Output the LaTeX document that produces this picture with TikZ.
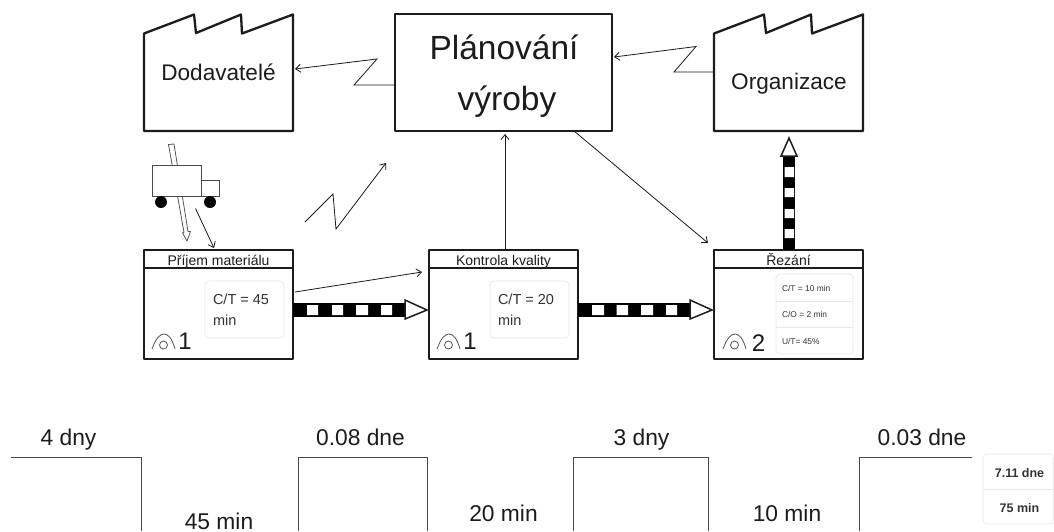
\documentclass[tikz,border=0pt]{standalone}
\usepackage{fontspec}
\setmainfont{Liberation Sans}
\usetikzlibrary{arrows.meta}
\definecolor{ink}{HTML}{1C1C1C}
\definecolor{cardline}{HTML}{E8E8E8}
\definecolor{cardtext}{HTML}{333333}
\tikzset{
  x=1pt,y=-1pt,
  every node/.style={inner sep=0pt,outer sep=0pt,text=ink},
  thick box/.style={draw=ink,line width=2.3pt,line join=round,fill=white},
  header/.style={draw=ink,line width=2.3pt},
  thin arrow/.style={draw=ink,line width=.8pt,-{Straight Barb[length=5pt,width=8pt,line width=.8pt]}},
  card/.style={draw=cardline,line width=.7pt,rounded corners=4pt,fill=white},
  cardrule/.style={draw=cardline,line width=.7pt},
  thin gray/.style={draw=ink!75,line width=.8pt},
  push/.style={fill=black},
  pushhead/.style={draw=ink,line width=1.5pt,fill=white,line join=miter},
  timeline/.style={draw=ink!80,line width=1pt},
  time/.style={font=\fontsize{22.8}{27}\selectfont,anchor=base},
  big/.style={font=\fontsize{22.6}{27}\selectfont,anchor=base},
  plantext/.style={font=\fontsize{33.5}{40}\selectfont,anchor=base},
  title/.style={font=\fontsize{14}{17}\selectfont,anchor=base},
  cardsmall/.style={font=\fontsize{14.5}{17}\selectfont,anchor=base west,text=cardtext},
  cardtiny/.style={font=\fontsize{8.4}{10}\selectfont,anchor=base west,text=cardtext},
  cardbold/.style={font=\bfseries\fontsize{12.5}{15}\selectfont,anchor=base,text=cardtext},
  opnum/.style={font=\fontsize{24}{28}\selectfont,anchor=base},
}
\newcommand{\opicon}[1]{%
  \draw[thin gray] (#1+152,349) .. controls (#1+156,338) and (#1+160,334) .. (#1+164,334) .. controls (#1+168,334) and (#1+172,338) .. (#1+175,349);
  \draw[thin gray] (#1+163.5,345) circle[radius=4];
}
\begin{document}
\begin{tikzpicture}
\useasboundingbox (0,0) rectangle (1054,531);
\fill[white] (0,0) rectangle (1054,531);

% factories
\draw[thick box] (144,131) -- (144,33.5) -- (194,14.5) -- (196,33) -- (241,14.5) -- (242,33.5) -- (293,14.5) -- (293,131) -- cycle;
\node[big] (dod) at (218.5,80) {Dodavatelé};
\coordinate (dodE) at (295,69);
\draw[thick box] (714,131) -- (714,33.5) -- (764,14.5) -- (766,33) -- (811,14.5) -- (812,33.5) -- (863,14.5) -- (863,131) -- cycle;
\node[big] (org) at (789,89) {Organizace};
\coordinate (orgW) at (714,72);

% planning
\node[thick box,minimum width=217pt,minimum height=117pt,anchor=north west] (plan) at (395,14) {};
\node[plantext] (plan1) at (504,59.5) {Plánování};
\node[plantext] (plan2) at (507,110) {výroby};
\coordinate (planW) at (395,85);
\coordinate (planE) at (614,57);
\coordinate (planS) at (505,134);
\coordinate (planSE) at (574,131);

% zigzags
\coordinate (z1) at (354,85);
\coordinate (z2) at (377,59);
\draw[thin arrow] (planW) -- (z1) -- (z2) -- (dodE);
\coordinate (z3) at (674,72);
\coordinate (z4) at (696,46.5);
\draw[thin arrow] (orgW) -- (z3) -- (z4) -- (planE);

% truck
\draw[thin gray,fill=white,line join=round] (168.5,144.5) -- (174,144) -- (188,231.5) -- (190.5,231.5) -- (187,241) -- (182.5,232.8) -- (184,232.5) -- cycle;
\node[draw=ink!80,line width=.8pt,fill=white,minimum width=49pt,minimum height=31pt,anchor=north west] (truckbody) at (152,165) {};
\node[draw=ink!80,line width=.8pt,fill=white,minimum width=18pt,minimum height=16pt,anchor=north west] (truckcab) at (201,180) {};
\fill[black] (161,202) circle[radius=6];
\fill[black] (210,202) circle[radius=6];
\coordinate (truckout) at (195.5,208.5);
\coordinate (prijemin) at (214,248);
\draw[thin arrow] (truckout) -- (prijemin);

% free zigzag
\coordinate (f1) at (305,222);
\coordinate (f2) at (333,194);
\coordinate (f3) at (336,229);
\coordinate (f4) at (386,163);
\draw[thin arrow] (f1) -- (f2) -- (f3) -- (f4);

% process boxes
\node[thick box,minimum width=149pt,minimum height=109pt,anchor=north west] (p1) at (144,250) {};
\draw[header] (144,268) -- (293,268);
\node[title] (p1t) at (218.5,265) {Příjem materiálu};
\node[thick box,minimum width=149pt,minimum height=109pt,anchor=north west] (p2) at (429,250) {};
\draw[header] (429,268) -- (578,268);
\node[title] (p2t) at (503.5,265) {Kontrola kvality};
\node[thick box,minimum width=149pt,minimum height=109pt,anchor=north west] (p3) at (714,250) {};
\draw[header] (714,268) -- (863,268);
\node[title] (p3t) at (788.5,265) {Řezání};

% cards
\draw[card] (205,281) rectangle (284,338);
\node[cardsmall] (c1a) at (213,304) {C/T = 45};
\node[cardsmall] (c1b) at (213,325.5) {min};
\draw[card] (490,281) rectangle (569,338);
\node[cardsmall] (c2a) at (498,304) {C/T = 20};
\node[cardsmall] (c2b) at (498,325.5) {min};
\draw[card] (776,274) rectangle (853,354);
\draw[cardrule] (776,301) -- (853,301);
\draw[cardrule] (776,327) -- (853,327);
\node[cardtiny] (c3a) at (782,291) {C/T = 10 min};
\node[cardtiny] (c3b) at (782,317.7) {C/O = 2 min};
\node[cardtiny] (c3c) at (782,344) {U/T= 45\%};

% operators
\opicon{0}
\node[opnum] (n1) at (185,349.5) {1};
\opicon{285}
\node[opnum] (n2) at (470,349.5) {1};
\opicon{571}
\node[opnum] (n3) at (758.5,351.5) {2};

% information arrows
\coordinate (p1E) at (295,292);
\coordinate (p2Wa) at (422,272);
\draw[thin arrow] (p1E) -- (p2Wa);
\coordinate (p2N) at (505,250);
\draw[thin arrow] (p2N) -- (planS);
\coordinate (p3NW) at (708,243);
\draw[thin arrow] (planSE) -- (p3NW);

% push arrows
\fill[push] (293,303) rectangle (405,317);
\fill[white] (307,305) rectangle (318,315) (332,305) rectangle (343,315) (356,305) rectangle (368,315) (381,305) rectangle (392,315);
\draw[pushhead] (405,300) -- (427,310) -- (405,319) -- cycle;
\fill[push] (578,303) rectangle (690,317);
\fill[white] (592,305) rectangle (604,315) (616.5,305) rectangle (628,315) (641,305) rectangle (653,315) (666,305) rectangle (677,315);
\draw[pushhead] (690,300) -- (712,310) -- (690,319) -- cycle;
\fill[push] (783,250) rectangle (795,156);
\fill[white] (784.5,167) rectangle (794,177) (784.5,188) rectangle (794,197) (784.5,209) rectangle (794,218) (784.5,229) rectangle (794,238);
\draw[pushhead] (781,156) -- (789,138) -- (797,156) -- cycle;

% timeline
\draw[timeline] (11,457) -- (141,457) -- (141,531);
\draw[timeline] (298,531) -- (298,457) -- (427,457) -- (427,531);
\draw[timeline] (573,531) -- (573,457) -- (708,457) -- (708,531);
\draw[timeline] (859,531) -- (859,457) -- (972,457);
\node[time] (t1) at (68.5,445) {4 dny};
\node[time] (t2) at (360.5,445) {0.08 dne};
\node[time] (t3) at (641.5,445) {3 dny};
\node[time] (t4) at (922,445) {0.03 dne};
\node[time] (t5) at (219,529) {45 min};
\node[time] (t6) at (503.5,521) {20 min};
\node[time] (t7) at (787,521) {10 min};

% totals
\draw[card] (983,454) rectangle (1053.5,524);
\draw[cardrule] (983,489) -- (1053.5,489);
\node[cardbold] (s1) at (1019.5,477) {7.11 dne};
\node[cardbold] (s2) at (1019.5,512.5) {75 min};
\end{tikzpicture}
\end{document}
